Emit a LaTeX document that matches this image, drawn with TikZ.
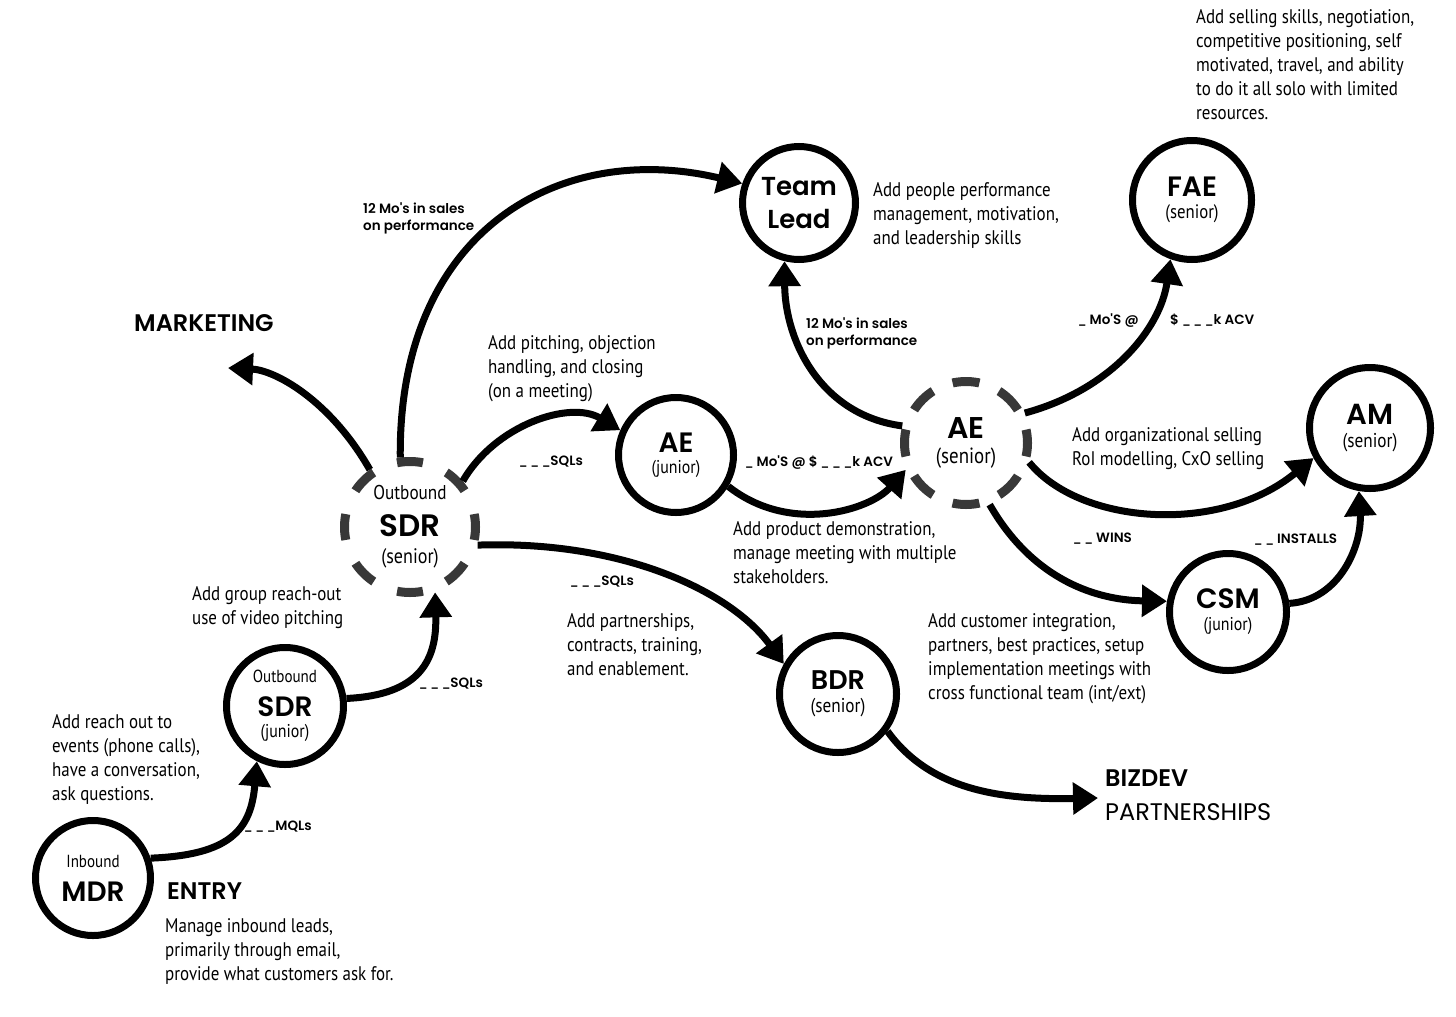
\documentclass[tikz,border=0pt]{standalone}
\usepackage{fontspec}
\setmainfont{PT Sans}
\newfontfamily\nar[FakeStretch=0.86]{PT Sans}
\newfontfamily\geo{Poppins}[BoldFont={* SemiBold}]
\usetikzlibrary{arrows.meta}
\newcommand\nsub[2][17.5]{{\nar\fontsize{#1}{20}\selectfont #2}}
\newcommand\nttl[2]{{\geo\bfseries\fontsize{#1}{#1}\selectfont #2}}
\newcommand\usc{{\fontsize{10.5}{10}\selectfont\_}}
\newcommand\uss{\usc\kern3.2pt}
\begin{document}
\begin{tikzpicture}[x=1pt,y=-1pt,
  ring/.style={circle, draw=black, line width=7pt, inner sep=0pt, align=center, minimum size=#1, font=\fontsize{19}{20}\selectfont},
  dring/.style={circle, inner sep=0pt, outer sep=0pt, align=center, minimum size=#1, font=\fontsize{19}{20}\selectfont},
  dashring/.style={draw=black!78, line width=9pt},
  conn/.style={line width=7pt, -{Triangle[length=25pt,width=31pt]}},
  ann/.style={anchor=north west, inner sep=0pt, align=left, font=\nar\fontsize{19.7}{24}\selectfont},
  tag/.style={anchor=west, inner sep=0pt, font=\geo\bfseries\fontsize{13.5}{17}\selectfont},
  tags/.style={anchor=north west, inner sep=0pt, align=left, font=\geo\bfseries\fontsize{13.5}{17}\selectfont},
  head/.style={anchor=west, inner sep=0pt, font=\geo\bfseries\fontsize{24}{26}\selectfont},
  headlight/.style={anchor=west, inner sep=0pt, font=\geo\fontsize{24}{26}\selectfont}
]
\fill[white] (0,0) rectangle (1456,1017);
\useasboundingbox (0,0) rectangle (1456,1017);

% ---------- nodes ----------
\node[ring=115] (mdr) at (93,878) {\nsub{Inbound}\\[14pt]\nttl{28}{MDR}};
\node[ring=117] (sdrJ) at (285,706) {\nsub{Outbound}\\[13pt]\nttl{28}{SDR}\\[1pt]\nsub[18.5]{(junior)}};
\node[dring=140] (sdrS) at (410,527) {\nsub[20]{Outbound}\\[14pt]\nttl{31}{SDR}\\[7pt]\nsub[21]{(senior)}};
\draw[dashring, dash pattern=on 26pt off 25.44pt, dash phase=13pt] (sdrS.center) circle[radius=65.5];
\node[ring=115] (aeJ) at (676,455) {\nttl{28}{AE}\\[1pt]\nsub[18.5]{(junior)}};
\node[ring=113] (tl) at (799,203) {\nttl{26}{Team}\\[13pt]\nttl{26}{Lead}};
\node[dring=132] (aeS) at (966,443) {\nttl{30}{AE}\\[5pt]\nsub[22]{(senior)}};
\draw[dashring, dash pattern=on 27pt off 21.3pt, dash phase=13.5pt] (aeS.center) circle[radius=61.5];
\node[ring=119] (fae) at (1192,200) {\nttl{28}{FAE}\\[2pt]\nsub[19.5]{(senior)}};
\node[ring=121] (am) at (1370,428) {\nttl{29}{AM}\\[3pt]\nsub[20]{(senior)}};
\node[ring=117] (csm) at (1228,612) {\nttl{28}{CSM}\\[2pt]\nsub[18.5]{(junior)}};
\node[ring=117] (bdr) at (838,694) {\nttl{27}{BDR}\\[3pt]\nsub[20]{(senior)}};

% ---------- headings ----------
\node[head] (mkt) at (134,323) {MARKETING};
\node[head] (entry) at (167,891) {ENTRY};
\node[head] (biz) at (1105,778) {BIZDEV};
\node[headlight] (part) at (1105,812) {PARTNERSHIPS};
\coordinate (mktEnd) at (228,368);
\coordinate (bizIn) at (1098,798);

% ---------- connectors ----------
\draw[conn] (mdr.19) .. controls (230,855) and (251,830) .. (sdrJ.-117);
\draw[conn] (sdrJ.7) .. controls (420,695) and (437,660) .. (sdrS.-69);
\draw[conn] (sdrS.125) .. controls (330,400) and (275,370) .. (mktEnd);
\draw[conn] (sdrS.98) .. controls (398,230) and (560,140) .. (tl.161);
\draw[conn] (sdrS.41) .. controls (495,425) and (570,400) .. (aeJ.156);
\draw[conn] (sdrS.-15) .. controls (620,540) and (730,590) .. (bdr.151);
\draw[conn] (aeJ.-31) .. controls (790,535) and (870,510) .. (aeS.-156);
\draw[conn] (aeS.165) .. controls (820,415) and (785,340) .. (tl.-104);
\draw[conn] (aeS.27) .. controls (1110,390) and (1160,330) .. (fae.-110);
\draw[conn] (aeS.-17) .. controls (1080,525) and (1220,535) .. (am.-152);
\draw[conn] (aeS.-69) .. controls (1030,575) and (1090,600) .. (csm.170);
\draw[conn] (csm.8) .. controls (1340,600) and (1362,545) .. (am.-100);
\draw[conn] (bdr.-37) .. controls (930,790) and (1000,800) .. (bizIn);

% ---------- annotations ----------
\node[ann] (tSell) at (1196,9) {Add selling skills, negotiation,\\competitive positioning, self\\motivated, travel, and ability\\to do it all solo with limited\\resources.};
\node[ann] (tPeople) at (873,182) {Add people performance\\management, motivation,\\and leadership skills};
\node[tags] (tMoL) at (363,203) {12 Mo's in sales\\on performance};
\node[tags] (tMoR) at (806,318) {12 Mo's in sales\\on performance};
\node[ann] (tPitch) at (488,335) {Add pitching, objection\\handling, and closing\\(on a meeting)};
\node[tag] (tSql1) at (519,462) {\uss\uss\usc SQLs};
\node[tag] (tAcv1) at (745,463) {\usc\ Mo'S @ \$ \uss\uss\usc k ACV};
\node[tag] (tMoS) at (1078,321) {\usc\ Mo'S @};
\node[tag] (tAcv2) at (1170,320) {\$ \uss\uss\usc k ACV};
\node[ann] (tOrg) at (1072,427) {Add organizational selling\\RoI modelling, CxO selling};
\node[ann] (tDemo) at (733,521) {Add product demonstration,\\manage meeting with multiple\\stakeholders.};
\node[tag] (tSql2) at (570,582) {\uss\uss\usc SQLs};
\node[ann] (tPart) at (567,613) {Add partnerships,\\contracts, training,\\and enablement.};
\node[tag] (tWins) at (1073,539) {\uss\usc\ WINS};
\node[tag] (tInst) at (1254,540) {\uss\usc\ INSTALLS};
\node[ann] (tCust) at (928,613) {Add customer integration,\\partners, best practices, setup\\implementation meetings with\\cross functional team (int/ext)};
\node[ann] (tGroup) at (192,586) {Add group reach-out\\use of video pitching};
\node[tag] (tSql3) at (419,684) {\uss\uss\usc SQLs};
\node[ann] (tReach) at (52,714) {Add reach out to\\events (phone calls),\\have a conversation,\\ask questions.};
\node[tag] (tMql) at (244,827) {\uss\uss\usc MQLs};
\node[ann] (tManage) at (165,918) {Manage inbound leads,\\primarily through email,\\provide what customers ask for.};
\end{tikzpicture}
\end{document}
